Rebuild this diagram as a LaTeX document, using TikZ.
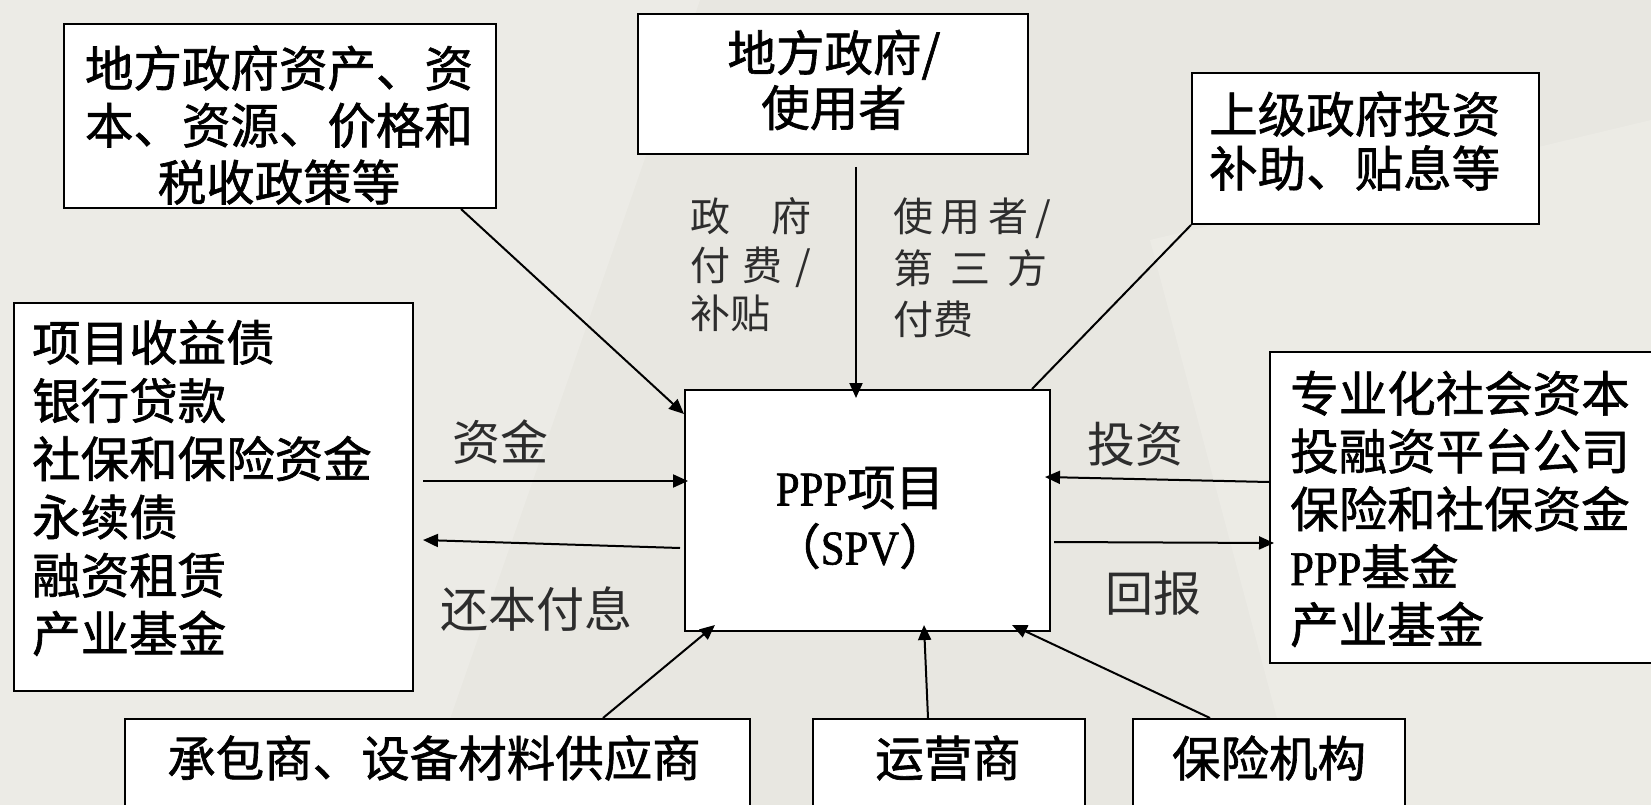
\documentclass[tikz,border=0pt]{standalone}
\usepackage{fontspec}
\setmainfont{Noto Sans CJK SC}
\newfontfamily\bx[FakeBold=1.3]{Noto Sans CJK SC}
\newfontfamily\lat[FakeStretch=0.88,FakeBold=1.3]{Liberation Serif}
\usetikzlibrary{arrows.meta,calc}
\definecolor{bg}{RGB}{232,231,225}
\definecolor{bglight}{RGB}{240,239,234}
\definecolor{lbl}{RGB}{45,45,45}
\tikzset{
  box/.style={draw=black, line width=2pt, fill=white, rectangle, inner sep=0pt, anchor=north west},
  big/.style={font=\bx\fontsize{48.5}{57}\selectfont, inner sep=0pt, text=black},
  lab/.style={font=\fontsize{48}{50}\selectfont, inner sep=0pt, text=lbl},
  vlab/.style={inner sep=0pt, text=lbl, anchor=west, align=left},
  conn/.style={line width=2pt, draw=black},
  arr/.style={conn, -{Triangle[length=15pt,width=13pt]}},
}
\begin{document}
\begin{tikzpicture}[x=1pt,y=-1pt]
\useasboundingbox (0,0) rectangle (1651,805);
\clip (0,0) rectangle (1651,805);
\fill[bg] (0,0) rectangle (1651,805);
\fill[bglight, opacity=0.6] (0,0) -- (700,0) -- (420,805) -- (0,805) -- cycle;
\fill[bglight, opacity=0.5] (1150,240) -- (1651,120) -- (1651,805) -- (1300,805) -- cycle;

% boxes
\node[box, minimum width=432pt, minimum height=184pt] (b1) at (63,23) {};
\node[box, minimum width=390pt, minimum height=140pt] (b2) at (637,13) {};
\node[box, minimum width=347pt, minimum height=151pt] (b3) at (1191,72) {};
\node[box, minimum width=399pt, minimum height=388pt] (b4) at (13,302) {};
\node[box, minimum width=365pt, minimum height=241pt] (ppp) at (684,389) {};
\node[box, minimum width=401pt, minimum height=311pt] (b6) at (1269,351) {};
\node[box, minimum width=625pt, minimum height=120pt] (b7) at (124,718) {};
\node[box, minimum width=272pt, minimum height=120pt] (b8) at (812,718) {};
\node[box, minimum width=272pt, minimum height=120pt] (b9) at (1132,718) {};

% box texts
\node[big, align=center] (t1) at (279,125) {地方政府资产、资\\本、资源、价格和\\税收政策等};
\node[big, align=center, font=\bx\fontsize{48.5}{55}\selectfont] (t2) at (834,80) {地方政府/\\使用者};
\node[big, align=left, anchor=west, font=\bx\fontsize{48.5}{54}\selectfont] (t3) at (1209,141) {上级政府投资\\补助、贴息等};
\node[big, align=left, anchor=west, font=\bx\fontsize{48.5}{58.2}\selectfont] (t4) at (32,488) {项目收益债\\银行贷款\\社保和保险资金\\永续债\\融资租赁\\产业基金};
\node[big, align=center, font=\bx\fontsize{48.5}{59}\selectfont] (t5) at (860,518) {{\lat PPP}项目\\（{\lat SPV}）};
\node[big, align=left, anchor=west, font=\bx\fontsize{48.5}{57.8}\selectfont] (t6) at (1290,509) {专业化社会资本\\投融资平台公司\\保险和社保资金\\{\lat PPP}基金\\产业基金};
\node[big] (t7) at (434,758) {承包商、设备材料供应商};
\node[big] (t8) at (948,758) {运营商};
\node[big] (t9) at (1269,758) {保险机构};

% labels
\node[vlab, font=\fontsize{40}{48.5}\selectfont] (g1) at (690,265) {\makebox[121pt][s]{政\hfill 府}\\\makebox[121pt][s]{付\hfill 费\hfill /}\\\makebox[121pt][l]{补贴}};
\node[vlab, font=\fontsize{40}{51.5}\selectfont] (g2) at (893,268) {\makebox[158pt][s]{使\hfill 用\hfill 者\hfill /}\\\makebox[158pt][l]{\makebox[154pt][s]{第\hfill 三\hfill 方}}\\\makebox[158pt][l]{付费}};
\node[lab] (l1) at (500,442) {资金};
\node[lab] (l2) at (536,609) {还本付息};
\node[lab] (l3) at (1135,444) {投资};
\node[lab] (l4) at (1153,593) {回报};

% connectors
\draw[arr] ($(b1.south west)+(398,0)$) -- ($(ppp.north west)+(0,25)$);
\draw[arr] ($(b2.south west)+(219,12)$) -- ($(ppp.north west)+(172,9)$);
\draw[conn] (b3.south west) -- ($(ppp.north east)+(-19,0)$);
\draw[arr] ($(b4.north east)+(9,179)$) -- ($(ppp.north west)+(4,92)$);
\draw[arr] ($(ppp.north west)+(-4,159)$) -- ($(b4.north east)+(9,238)$);
\draw[arr] ($(b6.north west)+(0,131)$) -- ($(ppp.north east)+(-6,88)$);
\draw[arr] ($(ppp.north east)+(3,153)$) -- ($(b6.north west)+(5,192)$);
\draw[arr] ($(b7.north west)+(479,0)$) -- ($(ppp.south west)+(31,-7)$);
\draw[arr] ($(b8.north west)+(116,0)$) -- ($(ppp.south west)+(240,-7)$);
\draw[arr] ($(b9.north west)+(78,0)$) -- ($(ppp.south west)+(328,-7)$);
\end{tikzpicture}
\end{document}
